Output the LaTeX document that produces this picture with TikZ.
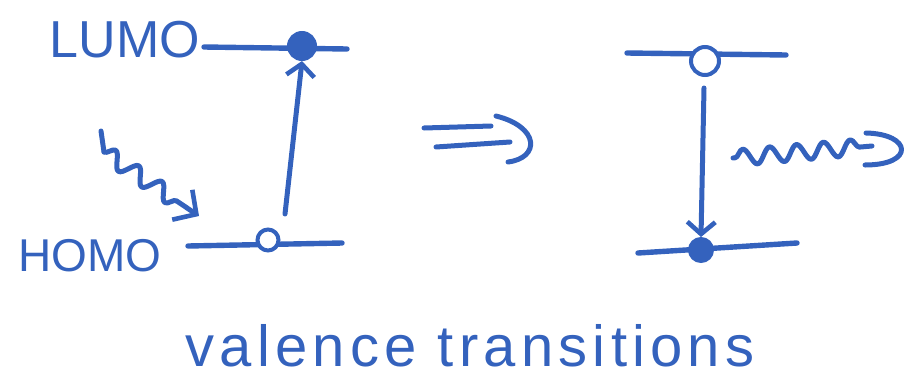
\documentclass[tikz,border=0pt]{standalone}
\usepackage{fontspec}
\setmainfont{Liberation Sans}
\newfontfamily\handfont[LetterSpace=9]{Liberation Sans}
\usetikzlibrary{arrows.meta,decorations.pathmorphing}
\definecolor{ink}{RGB}{52,98,189}
\begin{document}
\begin{tikzpicture}[x=1pt,y=-1pt,
  pen/.style={draw=ink, line width=5pt, line cap=round, line join=round},
  level/.style={pen, line width=5.4pt},
  barb/.style={-{Straight Barb[length=12pt,width=28pt,line width=4.6pt]}},
  bigbarb/.style={-{Straight Barb[length=17pt,width=36pt,line width=4.6pt]}},
  electron/.style={circle, draw=ink, fill=ink, line width=3pt, minimum size=#1, inner sep=0pt},
  hole/.style={circle, draw=ink, line width=4pt, fill=white, minimum size=#1, inner sep=0pt},
  lbl/.style={text=ink, inner sep=0pt, font=#1},
]
\useasboundingbox (0,0) rectangle (910,381);

% ---------- left diagram ----------
\node[lbl={\fontsize{52}{54}\selectfont}] (lumo) at (125,40) {LUMO};
\node[lbl={\fontsize{46}{48}\selectfont}] (homo) at (90,256) {HOMO};

\coordinate (L1) at (204,47);
\coordinate (L2) at (347,49);
\coordinate (H1) at (188,246);
\coordinate (H2) at (342,243);
\draw[level] (L1) -- (L2);
\draw[level] (H1) -- (H2);

\node[electron=27pt] (e1) at (302,46) {};
\node[hole=21pt] (h1) at (268,240) {};

\coordinate (up0) at (285,214);
\draw[pen, barb] (up0) -- (e1.south);

% incoming photon
\coordinate (ph0) at (101,131);
\coordinate (ph1) at (104,152);
\coordinate (ph2) at (199,216);
\draw[pen] (ph0) -- (ph1);
\draw[pen, decorate, decoration={snake, amplitude=8pt, segment length=28pt, post length=20pt}, bigbarb] (ph1) -- (ph2);

% ---------- implies arrow ----------
\coordinate (d1a) at (424,128);
\coordinate (d1b) at (491,126);
\coordinate (d2a) at (436,147);
\coordinate (d2b) at (510,142);
\coordinate (dh1) at (496,116);
\coordinate (dh2) at (508,162);
\draw[pen] (d1a) -- (d1b);
\draw[pen] (d2a) -- (d2b);
\draw[pen] (dh1) .. controls (540,127) and (540,158) .. (dh2);

% ---------- right diagram ----------
\coordinate (R1) at (627,53);
\coordinate (R2) at (786,55);
\coordinate (S1) at (638,253);
\coordinate (S2) at (797,243);
\draw[level] (R1) -- (R2);
\draw[level] (S1) -- (S2);

\node[hole=28pt] (h2) at (705,61) {};
\node[electron=23pt] (e2) at (701,250) {};

\coordinate (dn0) at (704,88);
\draw[pen, barb] (dn0) -- (e2.north);

% emitted photon
\coordinate (em0) at (733,158);
\coordinate (em1) at (872,146);
\coordinate (eh1) at (866,133);
\coordinate (eh2) at (865,165);
\draw[pen, decorate, decoration={snake, amplitude=8pt, segment length=27pt, pre length=2pt, post length=2pt}] (em0) -- (em1);
\draw[pen] (eh1) .. controls (912,134) and (915,165) .. (eh2);

% ---------- caption ----------
\node[lbl={\handfont\fontsize{58}{60}\selectfont}, anchor=base] (cap) at (470,366) {valence transitions};
\end{tikzpicture}
\end{document}
